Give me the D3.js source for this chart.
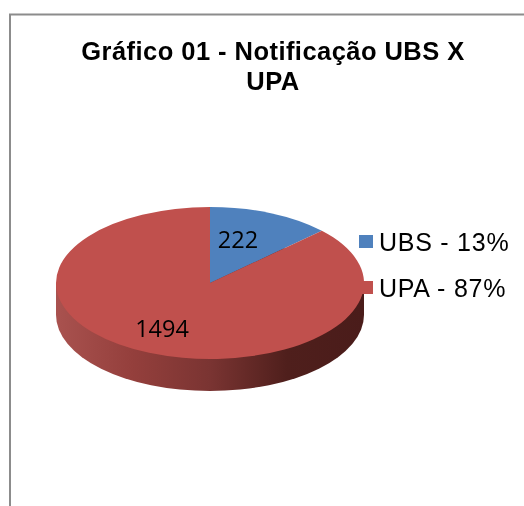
<!DOCTYPE html>
<html>
<head>
<meta charset="utf-8">
<script src="https://d3js.org/d3.v7.min.js"></script>
<style>
	body { margin: 0; padding: 0; background: #fff; }
	svg { display: block; filter: blur(0.45px); }
	.title { font-family: "Liberation Sans", Arial, sans-serif; font-weight: bold; font-size: 25.5px; letter-spacing: 0.45px; text-anchor: middle; fill: #000; }
	.legend { font-family: "Liberation Sans", Arial, sans-serif; font-size: 25px; letter-spacing: 0.75px; fill: #000; }
	.value { font-family: "Open Sans", sans-serif; font-size: 23.5px; fill: #000; text-anchor: middle; }
</style>
</head>
<body>
<div id="chart"></div>
<script>
	var categories = ["UBS", "UPA"];
	var values = [222, 1494];
	var legendLabels = ["UBS - 13%", "UPA - 87%"];
	var titleLines = ["Gráfico 01 - Notificação UBS X", "UPA"];
	var colors = ["#4f81bd", "#c0504d"];

	var width = 524, height = 506,
		cx = 210, cy = 283,
		rx = 154, ry = 76,
		depth = 32;

	var svg = d3.select("#chart").append("svg")
		.attr("width", width)
		.attr("height", height);

	var defs = svg.append("defs");
	var grad = defs.append("linearGradient")
		.attr("id", "side")
		.attr("gradientUnits", "userSpaceOnUse")
		.attr("x1", cx - rx).attr("x2", cx + rx)
		.attr("y1", 0).attr("y2", 0);
	grad.append("stop").attr("offset", "0").attr("stop-color", "#a9524f");
	grad.append("stop").attr("offset", "0.25").attr("stop-color", "#943f3c");
	grad.append("stop").attr("offset", "0.5").attr("stop-color", "#7a3432");
	grad.append("stop").attr("offset", "0.75").attr("stop-color", "#4f1f1c");
	grad.append("stop").attr("offset", "1").attr("stop-color", "#4a1c1a");

	// chart frame, only left and top show
	svg.append("path")
		.attr("d", "M10,506V14.5H524")
		.attr("fill", "none")
		.attr("stroke", "#8c8c8c")
		.attr("stroke-width", 2);

	svg.selectAll(".title")
		.data(titleLines)
		.enter().append("text")
		.attr("class", "title")
		.attr("x", 273)
		.attr("y", function(d, i) { return 60 + i * 30; })
		.text(function(d) { return d; });

	var color = d3.scaleOrdinal().domain(categories).range(colors);

	var pie = d3.pie().sort(null)(values);
	var arc = d3.arc().innerRadius(0).outerRadius(rx);

	// side wall of the disc
	svg.append("rect")
		.attr("x", cx - rx)
		.attr("y", cy)
		.attr("width", rx * 2)
		.attr("height", depth)
		.attr("fill", "url(#side)");
	svg.append("ellipse")
		.attr("cx", cx)
		.attr("cy", cy + depth)
		.attr("rx", rx)
		.attr("ry", ry)
		.attr("fill", "url(#side)");

	var disc = svg.append("g")
		.attr("transform", "translate(" + cx + "," + cy + ") scale(1," + (ry / rx) + ")");

	disc.selectAll("path")
		.data(pie)
		.enter().append("path")
		.attr("d", arc)
		.attr("fill", function(d, i) { return color(categories[i]); });

	var labelPos = [[238, 248], [162, 337]];
	svg.selectAll(".value")
		.data(values)
		.enter().append("text")
		.attr("class", "value")
		.attr("x", function(d, i) { return labelPos[i][0]; })
		.attr("y", function(d, i) { return labelPos[i][1]; })
		.text(function(d) { return d; });

	var legend = svg.selectAll(".item")
		.data(categories)
		.enter().append("g")
		.attr("class", "item")
		.attr("transform", function(d, i) { return "translate(359," + (235 + i * 46) + ")"; });

	legend.append("rect")
		.attr("width", 14)
		.attr("height", 13)
		.attr("fill", function(d) { return color(d); });

	legend.append("text")
		.attr("class", "legend")
		.attr("x", 20)
		.attr("y", 16)
		.text(function(d, i) { return legendLabels[i]; });
</script>
</body>
</html>
